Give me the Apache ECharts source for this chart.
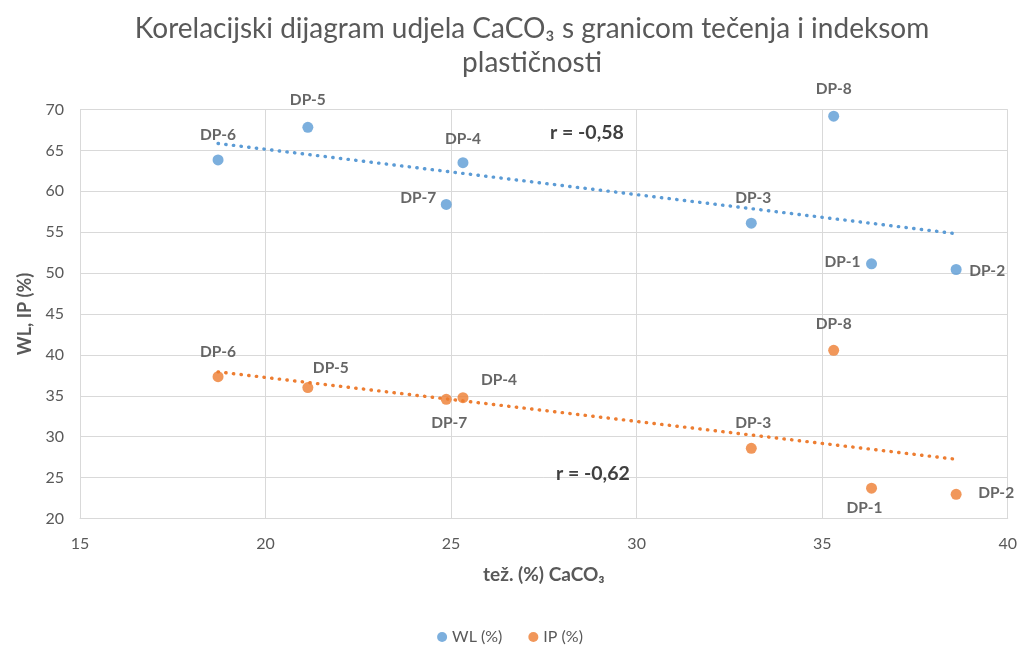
<!DOCTYPE html>
<html>
<head>
<meta charset="utf-8">
<script src="https://cdn.jsdelivr.net/npm/echarts@6/dist/echarts.min.js"></script>
<style>
html,body{margin:0;padding:0;background:#fff;}
#main{width:1020px;height:645px;}
</style>
</head>
<body>
<div id="main"></div>
<script>
// ---- data ----
var categories = ['DP-1','DP-2','DP-3','DP-4','DP-5','DP-6','DP-7','DP-8'];
var caco3 = [36.33, 38.61, 33.09, 25.32, 21.14, 18.72, 24.87, 35.31];
var wl = [51.14, 50.44, 56.10, 63.50, 67.82, 63.83, 58.40, 69.18];
var ip = [23.70, 22.96, 28.58, 34.77, 36.00, 37.34, 34.57, 40.56];
var seriesNames = ['WL (%)', 'IP (%)'];
var rTexts = ['r = -0,58', 'r = -0,62'];
var xTicks = [15, 20, 25, 30, 35, 40];
var yTicks = [20, 25, 30, 35, 40, 45, 50, 55, 60, 65, 70];
var titleText = 'Korelacijski dijagram udjela CaCO₃ s granicom tečenja i indeksom\nplastičnosti';
var xName = 'tež. (%) CaCO₃';
var yName = 'WL, IP (%)';

// ---- styles ----
var FONT = 'Lato, "Noto Sans", sans-serif';
var colors = ['#5B9BD5', '#ED7D31'];
// label offsets (px) relative to point centres, per category
var wlLabelOffsets = [[-29,-2],[31,1],[2,-25],[0,-24],[0,-27],[0,-25],[-28,-6],[0,-27]];
var ipLabelOffsets = [[-7,20],[40,-1],[2,-25],[36,-18],[23,-20],[0,-25],[3,24],[0,-26]];
var rAnchors = [[28.66, 67.13], [28.82, 25.44]];

function pts(ys, offsets) {
  return categories.map(function (c, i) {
    return { name: c, value: [caco3[i], ys[i]], label: { offset: offsets[i] } };
  });
}
function trend(ys) {
  var n = caco3.length, mx = 0, my = 0;
  for (var i = 0; i < n; i++) { mx += caco3[i]; my += ys[i]; }
  mx /= n; my /= n;
  var sxy = 0, sxx = 0;
  for (var j = 0; j < n; j++) { sxy += (caco3[j]-mx)*(ys[j]-my); sxx += (caco3[j]-mx)*(caco3[j]-mx); }
  var b = sxy / sxx, a = my - b*mx;
  var x0 = Math.min.apply(null, caco3), x1 = Math.max.apply(null, caco3);
  return [[x0, a + b*x0], [x1, a + b*x1]];
}

var labelStyle = {
  show: true, position: 'inside', formatter: '{b}',
  fontFamily: FONT, fontWeight: 'bold', fontSize: 15.5, color: '#404040'
};

function trendSeries(ys, color, rText, anchor) {
  return {
    name: 'trend ' + rText, type: 'line', data: trend(ys), symbol: 'none', silent: true,
    lineStyle: { color: color, width: 3.4, type: [0.4, 7.3], cap: 'round' },
    z: 1,
    markPoint: {
      symbol: 'circle', symbolSize: 1, itemStyle: { color: 'rgba(0,0,0,0)' },
      label: { show: true, position: 'inside', formatter: rText, fontFamily: FONT, fontWeight: 'bold', fontSize: 19.5, color: '#404040' },
      data: [{ coord: anchor }]
    }
  };
}

var chart = echarts.init(document.getElementById('main'), null, { renderer: 'canvas' });
chart.setOption({
  animation: false,
  backgroundColor: '#fff',
  title: {
    text: titleText,
    left: 527, top: 7, textAlign: 'center',
    textStyle: { fontFamily: FONT, fontSize: 28, fontWeight: 'normal', color: '#595959', lineHeight: 34 }
  },
  legend: {
    data: seriesNames, top: 624, left: 'center', icon: 'circle', itemWidth: 10, itemHeight: 10, itemGap: 26,
    textStyle: { fontFamily: FONT, fontSize: 16, color: '#595959' }
  },
  grid: { left: 80, right: 10, top: 109.5, bottom: 126.5 },
  xAxis: {
    type: 'value', min: xTicks[0], max: xTicks[xTicks.length-1], interval: xTicks[1]-xTicks[0],
    name: xName, nameLocation: 'middle', nameGap: 47,
    nameTextStyle: { fontFamily: FONT, fontSize: 19, fontWeight: 'bold', color: '#595959' },
    axisLine: { show: true, lineStyle: { color: '#d9d9d9' } },
    axisTick: { show: false },
    axisLabel: { fontFamily: FONT, fontSize: 16, color: '#595959', margin: 17 },
    splitLine: { show: true, lineStyle: { color: '#d9d9d9' } }
  },
  yAxis: {
    type: 'value', min: yTicks[0], max: yTicks[yTicks.length-1], interval: yTicks[1]-yTicks[0],
    name: yName, nameLocation: 'middle', nameGap: 46, nameRotate: 90,
    nameTextStyle: { fontFamily: FONT, fontSize: 18, fontWeight: 'bold', color: '#595959' },
    axisLine: { show: false }, axisTick: { show: false },
    axisLabel: { fontFamily: FONT, fontSize: 16, color: '#595959', margin: 16 },
    splitLine: { show: true, lineStyle: { color: '#d9d9d9' } }
  },
  series: [
    { name: seriesNames[0], type: 'scatter', data: pts(wl, wlLabelOffsets), symbolSize: 11,
      itemStyle: { color: colors[0] }, label: labelStyle, z: 3 },
    { name: seriesNames[1], type: 'scatter', data: pts(ip, ipLabelOffsets), symbolSize: 11,
      itemStyle: { color: colors[1] }, label: labelStyle, z: 3 },
    trendSeries(wl, colors[0], rTexts[0], rAnchors[0]),
    trendSeries(ip, colors[1], rTexts[1], rAnchors[1])
  ]
});
</script>
</body>
</html>
